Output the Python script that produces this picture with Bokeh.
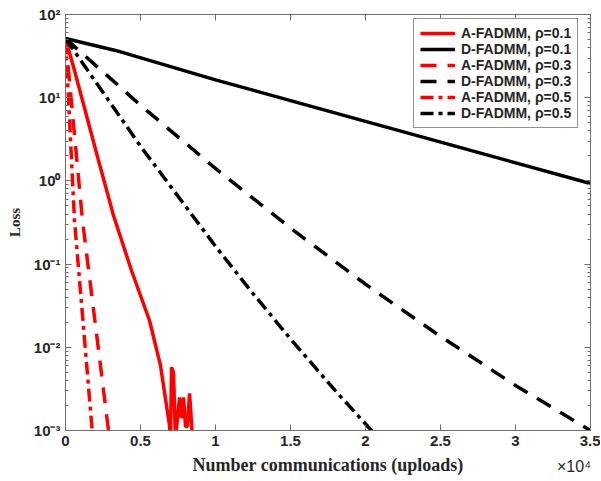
from bokeh.plotting import figure
from bokeh.models import Range1d, FixedTicker, LogAxis, LinearAxis, Legend, LegendItem, CustomJSTickFormatter
from bokeh.embed import file_html
from bokeh.resources import INLINE

# ---------------- data ----------------
a01_x = [0, 600, 1133, 2200, 3200, 4400, 5600, 6333, 6933, 7000, 7070, 7200, 7330, 7600, 7730, 7870, 8000, 8130, 8270, 8470]
a01_y = [51.5, 21.2, 9.25, 1.76, 0.384, 0.0837, 0.021, 0.00604, 0.00115, 0.00079, 0.00575, 0.0050, 0.00079, 0.0025, 0.00141, 0.0025, 0.00112, 0.00112, 0.0028, 0.00079]

d01_x = [0, 3333, 10000, 20000, 35000]
d01_y = [51.5, 37.0, 16.4, 5.2, 0.93]

a03_x = [0, 1133, 2867, 3000]
a03_y = [51.5, 0.334, 0.001, 0.0006]

d03_x = [0, 5000, 10000, 15000, 20000, 25000, 30000, 35000]
d03_y = [51.5, 8.11, 1.41, 0.271, 0.0573, 0.0135, 0.00348, 0.001]

a05_x = [0, 600, 1780, 1900]
a05_y = [51.5, 0.334, 0.001, 0.0006]

d05_x = [0, 5000, 10000, 12333, 15000, 18000, 20400, 21000]
d05_y = [51.5, 2.61, 0.1637, 0.0482, 0.0126, 0.00299, 0.001, 0.0007]

x_ticks = [0, 5000, 10000, 15000, 20000, 25000, 30000, 35000]
x_tick_labels = ["0", "0.5", "1", "1.5", "2", "2.5", "3", "3.5"]
x_scale_pos = [33900]
x_scale_label = ["\u00d710\u2074"]
y_ticks = [1e-3, 1e-2, 1e-1, 1e0, 1e1, 1e2]
y_tick_labels = ["10\u207b\u00b3", "10\u207b\u00b2", "10\u207b\u00b9", "10\u2070", "10\u00b9", "10\u00b2"]
y_minor = [m * t for t in y_ticks[:-1] for m in range(2, 10)]

AX = "#262626"
AXLINE = "#6e6e6e"

p = figure(width=600, height=480, output_backend="svg", toolbar_location=None,
           x_range=Range1d(0, 35000), y_range=Range1d(1e-3, 1e2), y_axis_type="log",
           min_border_left=65, min_border_right=10, min_border_top=14, min_border_bottom=50,
           background_fill_color="white", border_fill_color="white")
p.outline_line_color = None
p.grid.visible = False

blank = CustomJSTickFormatter(code="return ''")

def style_axis(ax):
    ax.axis_line_color = AXLINE
    ax.axis_line_width = 1
    ax.major_tick_in = 6
    ax.major_tick_out = 0
    ax.minor_tick_in = 3
    ax.minor_tick_out = 0
    ax.major_tick_line_color = AXLINE
    ax.minor_tick_line_color = AXLINE
    ax.major_label_text_font = "Liberation Sans"
    ax.major_label_text_font_style = "bold"
    ax.major_label_text_font_size = "15px"
    ax.major_label_text_color = AX
    ax.major_label_standoff = 5

xa = p.xaxis[0]
xa.ticker = FixedTicker(ticks=x_ticks)
xa.major_label_overrides = dict(zip(x_ticks, x_tick_labels))
style_axis(xa)
xa.minor_tick_in = 0
xa.axis_label = "Number communications (uploads)"
xa.axis_label_text_font = "Liberation Serif"
xa.axis_label_text_font_style = "bold"
xa.axis_label_text_font_size = "18px"
xa.axis_label_text_color = AX
xa.axis_label_standoff = 6

# "x10^4" multiplier, drawn as the single label of a line-less axis pulled up beside the x label
sa = LinearAxis(ticker=FixedTicker(ticks=x_scale_pos))
sa.major_label_overrides = dict(zip(x_scale_pos, x_scale_label))
sa.axis_line_color = None
sa.major_tick_in = 0
sa.major_tick_out = 0
sa.minor_tick_in = 0
sa.minor_tick_out = 0
sa.major_label_text_font = "Liberation Sans"
sa.major_label_text_font_size = "16px"
sa.major_label_text_color = AX
sa.major_label_standoff = -20
p.add_layout(sa, "below")

ya = p.yaxis[0]
ya.ticker = FixedTicker(ticks=y_ticks, minor_ticks=y_minor)
ya.major_label_overrides = dict(zip(y_ticks, y_tick_labels))
style_axis(ya)
ya.axis_label = "Loss"
ya.axis_label_text_font = "Liberation Serif"
ya.axis_label_text_font_style = "bold"
ya.axis_label_text_font_size = "15px"
ya.axis_label_text_color = AX
ya.axis_label_standoff = 8

ra = LogAxis(ticker=FixedTicker(ticks=y_ticks, minor_ticks=y_minor), formatter=blank)
style_axis(ra)
ra.major_label_standoff = 0
p.add_layout(ra, "right")
ta = LinearAxis(ticker=FixedTicker(ticks=x_ticks), formatter=blank)
style_axis(ta)
ta.major_label_standoff = 0
ta.minor_tick_in = 0
p.add_layout(ta, "above")

LW = 3.5
r1 = p.line(a01_x, a01_y, line_color="red", line_width=LW)
r2 = p.line(d01_x, d01_y, line_color="black", line_width=LW)
r3 = p.line(a03_x, a03_y, line_color="red", line_width=LW, line_dash="16 11")
r4 = p.line(d03_x, d03_y, line_color="black", line_width=LW, line_dash="16 11")
r5 = p.line(a05_x, a05_y, line_color="red", line_width=LW, line_dash="13 5 4 5")
r6 = p.line(d05_x, d05_y, line_color="black", line_width=LW, line_dash="13 5 4 5")

legend = Legend(items=[
    LegendItem(label="A-FADMM, \u03c1=0.1", renderers=[r1]),
    LegendItem(label="D-FADMM, \u03c1=0.1", renderers=[r2]),
    LegendItem(label="A-FADMM, \u03c1=0.3", renderers=[r3]),
    LegendItem(label="D-FADMM, \u03c1=0.3", renderers=[r4]),
    LegendItem(label="A-FADMM, \u03c1=0.5", renderers=[r5]),
    LegendItem(label="D-FADMM, \u03c1=0.5", renderers=[r6]),
], location=(348, 302))
legend.label_text_font = "Liberation Sans"
legend.label_text_font_style = "bold"
legend.label_text_font_size = "14px"
legend.label_text_color = AX
legend.label_height = 16
legend.glyph_height = 16
legend.glyph_width = 35
legend.label_standoff = 6
legend.spacing = 0
legend.padding = 6
legend.margin = 0
legend.border_line_color = AX
legend.border_line_width = 1
legend.background_fill_alpha = 1
p.add_layout(legend, "center")

open("out.html", "w").write(file_html(p, INLINE))
